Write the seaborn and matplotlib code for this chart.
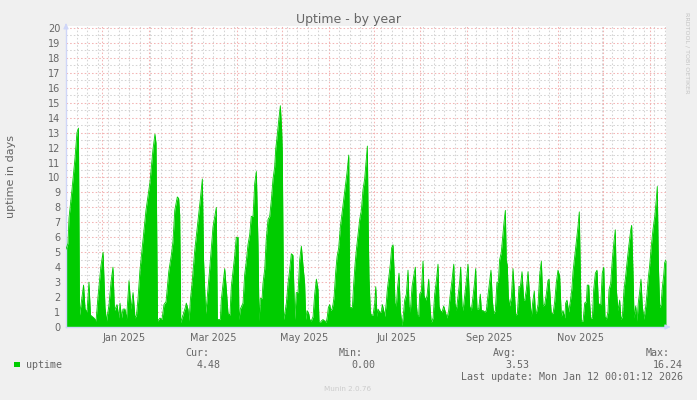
import matplotlib
matplotlib.use("Agg")
import matplotlib.pyplot as plt
import seaborn as sns
import pandas as pd
import numpy as np

# ---------------- data ----------------
start_date = "2024-12-08"          # left edge of the 400-day window
span_days = 400
title = "Uptime - by year"
ylabel = "uptime in days"
series_name = "uptime"
month_labels = ["Jan 2025", "Mar 2025", "May 2025", "Jul 2025", "Sep 2025", "Nov 2025"]
label_dates = ["2025-01-16", "2025-03-16", "2025-05-16", "2025-07-16", "2025-09-16", "2025-11-16"]
y_ticks = list(range(0, 21))
stats_labels = ["Cur:", "Min:", "Avg:", "Max:"]
stats_values = ["4.48", "0.00", "3.53", "16.24"]
last_update = "Last update: Mon Jan 12 00:01:12 2026"

# days since start_date, uptime in days
day = [
    0.0, 1.3, 2.0, 4.0, 6.0, 7.3, 8.3, 9.0, 10.0, 11.7, 12.7, 14.0, 15.3, 16.3, 18.7, 20.0,
    21.3, 23.3, 24.7, 26.0, 27.0, 28.7, 30.0, 31.3, 32.3, 34.0, 35.3, 36.0, 37.0, 38.0, 39.3,
    40.3, 42.0, 43.3, 44.7, 46.0, 47.0, 48.0, 49.3, 51.3, 53.3, 56.0, 58.0, 59.3, 60.0, 61.0,
    62.7, 64.0, 65.3,
    66.7, 68.5, 70.2, 71.3, 72.5, 74.2, 75.1, 75.8, 76.5, 78.0, 79.5, 80.2, 81.3, 82.0, 82.9,
    84.2, 85.8, 88.0, 89.5, 90.9, 91.7, 93.1, 94.0, 95.8, 98.0, 100.2, 100.9, 102.9, 103.5,
    105.8, 106.9, 108.0, 109.3, 110.2, 112.5, 113.5, 114.7, 115.3, 116.2, 118.0, 119.1, 120.2,
    121.3, 122.5, 123.5, 124.7, 125.8, 126.9, 128.0, 128.7, 129.5, 130.7,
    131.3, 132.5, 133.5, 134.7, 135.8, 136.9, 138.0, 139.1, 139.8, 140.9, 141.8, 142.9, 143.8,
    144.2, 145.1, 146.0, 146.9, 148.0, 149.1, 150.2, 151.3, 152.5, 153.5, 154.7, 155.8, 156.9,
    158.0, 159.1, 159.8, 160.7, 161.8, 162.5, 163.5, 164.7, 165.8, 166.9, 168.0, 168.7, 169.5,
    170.2, 171.3, 172.5, 173.5, 174.2, 174.9, 175.8, 176.5, 177.3, 178.0, 178.7, 179.8, 180.7,
    181.8, 182.9, 184.0, 185.1, 186.2, 187.3, 188.5, 189.2, 190.9, 191.8, 192.7, 193.5, 194.7,
    195.8, 196.9, 198.0, 199.1, 200.2,
    200.9, 201.5, 202.0, 202.9, 203.5, 204.7, 205.8, 206.5, 207.3, 208.0, 209.1, 210.2, 210.9,
    211.8, 212.5, 213.5, 214.2, 215.3, 216.2, 217.1, 218.0, 218.7, 219.3, 220.2, 221.1, 222.0,
    222.9, 224.0, 224.7, 225.8, 226.9, 228.0, 228.7, 229.5, 230.7, 231.8, 232.9, 233.5, 234.2,
    235.1, 235.8, 236.9, 238.0, 238.7, 239.8, 240.7, 241.8, 242.5, 243.5, 244.7, 245.8, 246.9,
    248.0, 248.7, 249.5, 250.7, 251.8, 252.9, 254.0, 255.1, 256.2, 257.3, 258.5, 259.3, 260.2,
    261.3, 262.5, 263.1, 264.0,
    264.7, 265.8, 266.9, 268.0, 269.1, 270.2, 271.3, 272.5, 273.1, 274.0, 275.1, 276.2, 276.9,
    278.0, 279.1, 280.2, 281.3, 282.5, 283.3, 284.2, 285.1, 286.2, 287.3, 288.2, 289.1, 290.2,
    291.3, 292.0, 292.9, 293.5, 294.2, 294.9, 295.8, 296.9, 298.0, 299.1, 299.8, 300.9, 302.0,
    302.9, 304.0, 305.1, 305.8, 306.9, 308.0, 309.1, 310.2, 311.3, 312.2, 312.9, 313.5, 314.7,
    315.8, 316.9, 318.0, 319.1, 320.2, 321.3, 322.0, 322.9, 323.5, 324.7, 325.8, 326.9, 328.0,
    329.1, 330.2,
    331.3, 332.5, 333.1, 334.0, 335.1, 336.2, 337.3, 338.0, 339.1, 340.2, 341.3, 342.2, 342.9,
    343.5, 344.7, 345.8, 346.9, 347.5, 348.5, 349.1, 349.8, 350.9, 351.8, 352.9, 354.0, 354.9,
    355.8, 356.5, 357.5, 358.5, 359.3, 360.2, 361.3, 362.0, 363.1, 364.2, 365.3, 366.2, 366.9,
    368.0, 369.1, 370.0, 370.9, 372.0, 373.1, 374.2, 375.3, 376.5, 377.1, 378.0, 378.7, 379.8,
    380.7, 381.5, 382.5, 383.3, 384.2, 385.3, 386.5, 387.3, 388.2, 389.1, 390.2, 391.3, 392.5,
    393.5, 394.2, 394.9, 395.8, 396.7, 397.5, 398.5, 399.1, 400.0,
]
uptime = [
    5.2, 5.6, 7.3, 9.2, 11.3, 13.0, 13.3, 0.8, 1.5, 2.8, 1.2, 1.0, 3.0, 0.8, 0.6, 0.4,
    2.0, 4.1, 5.0, 1.3, 0.4, 1.5, 3.0, 4.0, 1.1, 1.5, 0.6, 1.6, 0.6, 1.2, 1.2,
    0.5, 3.1, 1.2, 2.3, 0.6, 0.8, 1.9, 3.8, 5.8, 7.8, 9.7, 11.9, 12.9, 12.3, 0.4,
    0.6, 0.5, 1.5,
    1.7, 3.7, 4.8, 5.7, 7.8, 8.7, 8.6, 7.5, 0.3, 0.8, 1.3, 1.6, 1.2, 0.4, 1.8,
    3.1, 5.1, 7.1, 8.5, 9.9, 4.5, 0.9, 1.8, 3.9, 6.7, 8.0, 0.5, 0.5, 1.8,
    3.9, 2.5, 0.9, 0.8, 2.7, 4.8, 6.0, 6.0, 0.5, 1.2, 1.6, 3.5, 4.4,
    5.5, 6.2, 7.4, 7.4, 9.6, 10.4, 5.5, 0.4, 1.9, 1.9,
    2.9, 3.9, 5.9, 7.2, 7.4, 8.5, 9.9, 10.7, 11.9, 12.9, 13.8, 14.8, 13.1,
    11.7, 0.5, 1.0, 1.6, 2.9, 3.8, 4.9, 4.8, 0.5, 2.3, 2.3, 4.5, 5.4,
    4.1, 2.9, 0.5, 1.1, 0.9, 0.5, 0.4, 0.7, 2.2, 3.2, 2.5, 0.3, 0.3,
    0.4, 0.5, 0.4, 0.3, 0.7, 1.3, 1.5, 1.1, 1.2, 1.5, 2.0, 3.7, 4.7,
    5.3, 6.7, 7.6, 8.5, 9.4, 10.3, 11.5, 1.3, 1.3, 2.9, 4.2, 5.1, 6.2,
    7.2, 7.8, 9.2, 9.9, 11.3,
    12.1, 6.5, 3.3, 1.0, 0.8, 0.8, 1.6, 2.7, 0.7, 1.2, 1.0, 1.0, 1.5,
    1.1, 0.7, 1.6, 2.5, 3.4, 4.2, 5.3, 5.5, 3.8, 1.6, 1.4, 2.7, 3.6,
    1.1, 0.1, 0.6, 1.8, 2.2, 3.8, 1.4, 1.0, 2.7, 3.4, 4.0, 1.6, 0.8,
    0.7, 2.2, 2.4, 4.4, 2.1, 1.8, 2.1, 3.2, 1.6, 0.3, 0.6, 2.2, 3.1,
    4.2, 1.4, 1.1, 1.0, 1.4, 1.0, 0.6, 1.1, 2.2, 3.1, 4.2, 1.6, 1.1,
    2.0, 3.1, 4.0, 1.4,
    1.1, 2.1, 3.1, 4.2, 1.4, 1.1, 2.0, 3.1, 3.9, 1.2, 1.2, 2.2, 1.1,
    1.1, 1.0, 1.1, 2.1, 3.1, 3.8, 1.8, 0.9, 1.1, 3.0, 3.0, 4.5, 5.0,
    6.2, 7.0, 7.8, 4.5, 4.1, 2.0, 1.4, 2.0, 3.9, 2.0, 0.8, 0.9, 2.7,
    2.7, 3.7, 1.8, 1.8, 2.5, 3.7, 2.0, 0.7, 1.8, 2.4, 1.0, 0.9, 1.5,
    3.5, 4.4, 1.4, 1.5, 2.2, 3.1, 3.2, 1.8, 0.9, 0.9, 1.7, 3.0, 3.8,
    3.4, 0.7,
    1.1, 0.6, 1.6, 1.8, 1.0, 1.7, 2.6, 3.7, 4.7, 5.7, 6.7, 7.7, 3.4,
    0.4, 0.4, 1.6, 1.7, 2.8, 2.8, 1.6, 0.6, 0.6, 2.5, 3.6, 3.8, 1.6,
    1.5, 1.5, 3.6, 4.0, 0.7, 0.5, 1.0, 2.5, 2.9, 4.5, 5.7, 6.5, 2.5,
    1.1, 1.8, 0.5, 0.7, 2.5, 3.4, 4.5, 5.5, 6.5, 6.8, 3.6, 0.6, 1.4,
    0.4, 1.6, 2.4, 3.2, 1.4, 0.5, 1.4, 2.2, 3.3, 4.1, 5.4, 6.5, 7.4,
    8.5, 9.4, 4.2, 1.3, 1.5, 2.6, 3.5, 4.3, 4.5,
]

# ---------------- style ----------------
W, H = 697, 400
BG = "#F0F0F0"
FONT_C = "#666666"
AXIS_C = "#CFD6F8"
GREEN = "#00CC00"

sns.set_theme(style="white")
plt.rcParams["font.family"] = ["DejaVu Sans"]

fig = plt.figure(figsize=(W / 100, H / 100), dpi=100, facecolor=BG)
L, R, T, B = 66, 666, 26, 327
ax = fig.add_axes([L / W, 1 - B / H, (R - L) / W, (B - T) / H])
ax.set_facecolor("white")

df = pd.DataFrame({"day": day, "uptime": uptime})

start = pd.Timestamp(start_date)
end = start + pd.Timedelta(days=span_days)

# grid: weekly (minor) + monthly (major), half-units (minor) + integers (major)
weeks = pd.date_range(start + pd.Timedelta(days=7), end, freq="7D")
months = pd.date_range("2025-01-01", end, freq="MS")
month_days = [(m - start).days for m in months]
dash = (0, (1.5, 2))
for w in weeks:
    d = (w - start).days
    if d not in month_days:
        ax.axvline(d, color="#D4D4D4", lw=0.75, ls=dash, zorder=0)
for yv in np.arange(0.5, 20.1, 1.0):
    ax.axhline(yv, color="#D4D4D4", lw=0.75, ls=dash, zorder=0)
for d in month_days:
    ax.axvline(d, color="#F3B4B4", lw=0.75, ls=dash, zorder=0.5)
for yv in range(1, 21):
    ax.axhline(yv, color="#F3B4B4", lw=0.75, ls=dash, zorder=0.5)

# data
ax.fill_between(df["day"], 0, df["uptime"], color=GREEN, lw=0, zorder=2)
sns.lineplot(data=df, x="day", y="uptime", ax=ax, color=GREEN, lw=0.6, zorder=3, legend=False)

ax.set_xlim(0, span_days)
ax.set_ylim(0, 20.13)

label_pos = [(pd.Timestamp(d) - start).days for d in label_dates]
ax.set_xticks(label_pos)
ax.set_xticklabels(month_labels)
ax.set_yticks(y_ticks)
ax.set_yticklabels([str(v) for v in y_ticks])
ax.tick_params(axis="both", length=0, labelsize=7, colors=FONT_C)
ax.tick_params(axis="x", pad=4)
ax.tick_params(axis="y", pad=4)
ax.set_xlabel("")
ax.set_ylabel("")

for s in ["top", "right"]:
    ax.spines[s].set_visible(False)
for s in ["left", "bottom"]:
    ax.spines[s].set_color(AXIS_C)
    ax.spines[s].set_linewidth(1.0)

# axis arrows
ax.annotate("", xy=(1.012, 0), xytext=(0.998, 0), xycoords="axes fraction",
            arrowprops=dict(arrowstyle="-|>", color=AXIS_C, lw=1, mutation_scale=7), annotation_clip=False)
ax.annotate("", xy=(0, 1.018), xytext=(0, 0.995), xycoords="axes fraction",
            arrowprops=dict(arrowstyle="-|>", color=AXIS_C, lw=1, mutation_scale=7), annotation_clip=False)

def px(x, y):
    return x / W, 1 - y / H

fig.text(*px(348, 19), title, ha="center", va="center", fontsize=9, color=FONT_C)
fig.text(*px(11, 177), ylabel, ha="center", va="center", rotation=90, fontsize=8, color=FONT_C)
fig.text(*px(687, 53), "RRDTOOL / TOBI OETIKER", ha="center", va="center", rotation=270,
         fontsize=4.6, color="#C4C4C4")
fig.text(*px(348, 389), "Munin 2.0.76", ha="center", va="center", fontsize=5.2, color="#CCCCCC")

mono = "DejaVu Sans Mono"
fig.patches.append(plt.Rectangle(px(14, 367), 6 / W, 5 / H, transform=fig.transFigure,
                                 color=GREEN, lw=0))
fig.text(*px(26, 364.5), series_name, ha="left", va="center", fontsize=7.2, family=mono, color=FONT_C)
label_right = [209, 363, 517, 670]
value_right = [221, 375, 529, 683]
for lab, val, lx, vx in zip(stats_labels, stats_values, label_right, value_right):
    fig.text(*px(lx, 352.5), lab, ha="right", va="center", fontsize=7.2, family=mono, color=FONT_C)
    fig.text(*px(vx, 364.5), val, ha="right", va="center", fontsize=7.2, family=mono, color=FONT_C)
fig.text(*px(683, 376.5), last_update, ha="right", va="center", fontsize=7.2, family=mono, color=FONT_C)

fig.savefig("out.png", dpi=100, facecolor=BG)
